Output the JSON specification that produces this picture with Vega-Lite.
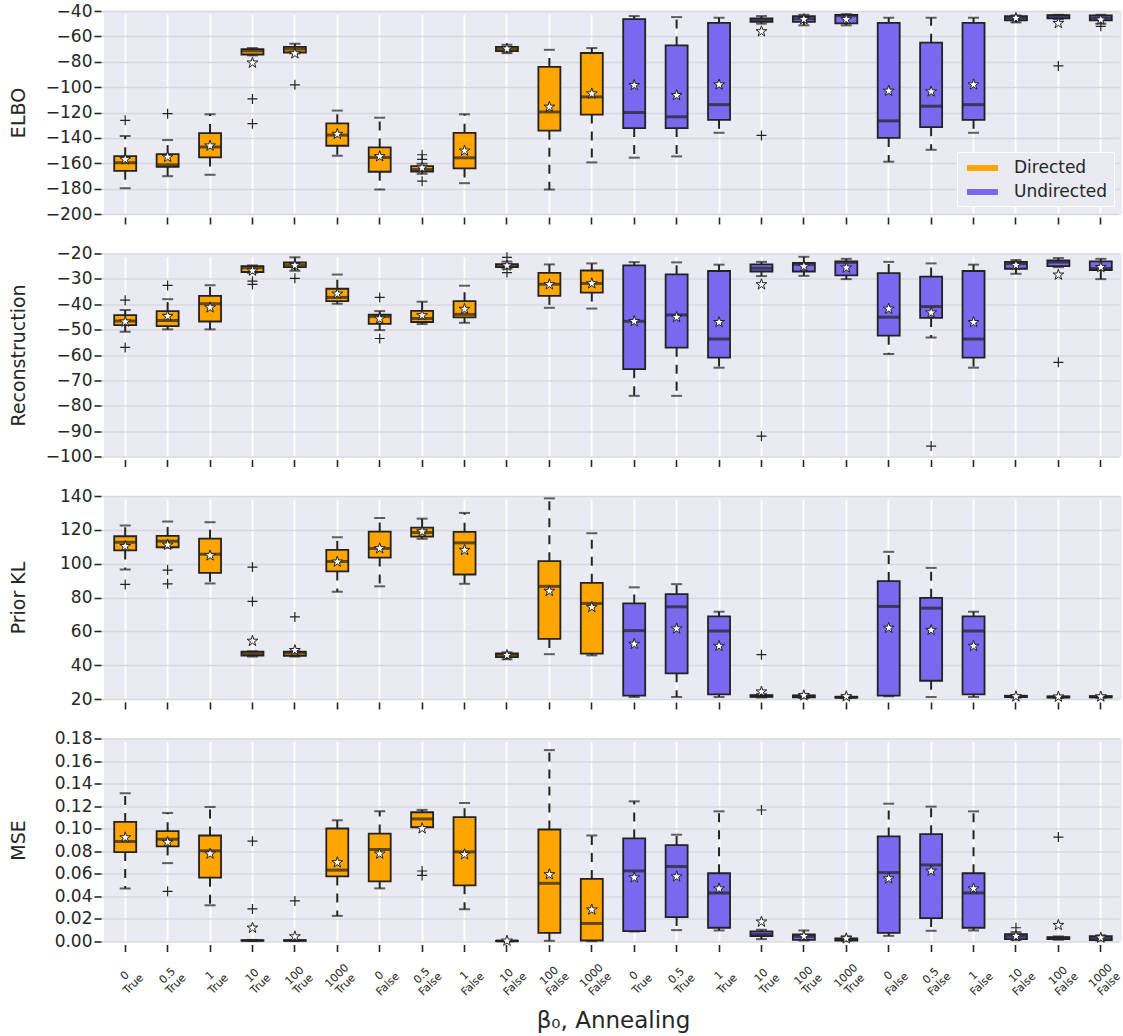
{
"$schema": "https://vega.github.io/schema/vega-lite/v6.json",
"padding": {"left": 8, "top": 2, "right": 2, "bottom": 4},
"background": "white",
"spacing": 39.5,
"bounds": "flush",
"resolve": {"scale": {"color": "independent"}, "legend": {"color": "independent"}},
"datasets": {
"stats": [
{"m":"ELBO","c":"D|0|True","t":"Directed","lo":-179.7,"q1":-166,"md":-159.6,"q3":-154.4,"hi":-138.5,"mn":-157},
{"m":"ELBO","c":"D|0.5|True","t":"Directed","lo":-170.2,"q1":-162.8,"md":-161.2,"q3":-152.8,"hi":-141.7,"mn":-155.1},
{"m":"ELBO","c":"D|1|True","t":"Directed","lo":-169.1,"q1":-155.4,"md":-147.2,"q3":-136.2,"hi":-121.4,"mn":-146.2},
{"m":"ELBO","c":"D|10|True","t":"Directed","lo":-75,"q1":-74.3,"md":-71.4,"q3":-70,"hi":-69.2,"mn":-80.8},
{"m":"ELBO","c":"D|100|True","t":"Directed","lo":-73.5,"q1":-72.7,"md":-70,"q3":-68.2,"hi":-65.8,"mn":-73.5},
{"m":"ELBO","c":"D|1000|True","t":"Directed","lo":-154.1,"q1":-146.2,"md":-137.8,"q3":-128.5,"hi":-118.5,"mn":-137},
{"m":"ELBO","c":"D|0|False","t":"Directed","lo":-180.7,"q1":-166.7,"md":-155.4,"q3":-147.5,"hi":-124.1,"mn":-154.6},
{"m":"ELBO","c":"D|0.5|False","t":"Directed","lo":-168.3,"q1":-166.5,"md":-164.9,"q3":-162.3,"hi":-160.4,"mn":-163.6},
{"m":"ELBO","c":"D|1|False","t":"Directed","lo":-175.7,"q1":-164.1,"md":-155.7,"q3":-136,"hi":-121.4,"mn":-150.2},
{"m":"ELBO","c":"D|10|False","t":"Directed","lo":-73.2,"q1":-71.6,"md":-70,"q3":-68.2,"hi":-66.6,"mn":-69.8},
{"m":"ELBO","c":"D|100|False","t":"Directed","lo":-180.7,"q1":-134.3,"md":-119.6,"q3":-84.1,"hi":-70.6,"mn":-115.6},
{"m":"ELBO","c":"D|1000|False","t":"Directed","lo":-159.3,"q1":-121.6,"md":-107.7,"q3":-73.1,"hi":-69.2,"mn":-105.1},
{"m":"ELBO","c":"U|0|True","t":"Undirected","lo":-155.6,"q1":-132.3,"md":-120,"q3":-46.4,"hi":-44,"mn":-98.5},
{"m":"ELBO","c":"U|0.5|True","t":"Undirected","lo":-154.6,"q1":-132.3,"md":-123.4,"q3":-67.1,"hi":-44.8,"mn":-106.4},
{"m":"ELBO","c":"U|1|True","t":"Undirected","lo":-136,"q1":-125.8,"md":-113.8,"q3":-49.3,"hi":-45.3,"mn":-98},
{"m":"ELBO","c":"U|10|True","t":"Undirected","lo":-50,"q1":-48.5,"md":-47.2,"q3":-45.8,"hi":-44,"mn":-56.1},
{"m":"ELBO","c":"U|100|True","t":"Undirected","lo":-51.3,"q1":-48.5,"md":-46.1,"q3":-44,"hi":-43,"mn":-46.6},
{"m":"ELBO","c":"U|1000|True","t":"Undirected","lo":-51.3,"q1":-49.8,"md":-43.5,"q3":-43,"hi":-42.5,"mn":-46.6},
{"m":"ELBO","c":"U|0|False","t":"Undirected","lo":-158.8,"q1":-140,"md":-126.6,"q3":-49.3,"hi":-45.3,"mn":-103},
{"m":"ELBO","c":"U|0.5|False","t":"Undirected","lo":-149.4,"q1":-131.6,"md":-115,"q3":-65,"hi":-45.3,"mn":-103.5},
{"m":"ELBO","c":"U|1|False","t":"Undirected","lo":-136,"q1":-125.8,"md":-113.8,"q3":-49.3,"hi":-45.3,"mn":-98},
{"m":"ELBO","c":"U|10|False","t":"Undirected","lo":-49,"q1":-47.4,"md":-45.6,"q3":-44,"hi":-43.5,"mn":-45.6},
{"m":"ELBO","c":"U|100|False","t":"Undirected","lo":-46.4,"q1":-45.8,"md":-44,"q3":-43.2,"hi":-43,"mn":-49.6},
{"m":"ELBO","c":"U|1000|False","t":"Undirected","lo":-50,"q1":-47.4,"md":-45.6,"q3":-43.5,"hi":-43,"mn":-46.9},

{"m":"Rec","c":"D|0|True","t":"Directed","lo":-50.8,"q1":-48.2,"md":-46.6,"q3":-44.3,"hi":-42.3,"mn":-46.9},
{"m":"Rec","c":"D|0.5|True","t":"Directed","lo":-49.9,"q1":-48.6,"md":-46.4,"q3":-42.7,"hi":-38,"mn":-44.7},
{"m":"Rec","c":"D|1|True","t":"Directed","lo":-49.9,"q1":-46.8,"md":-39.8,"q3":-36.7,"hi":-32.5,"mn":-41.3},
{"m":"Rec","c":"D|10|True","t":"Directed","lo":-27.6,"q1":-27.3,"md":-25.6,"q3":-25,"hi":-24.7,"mn":-26.8},
{"m":"Rec","c":"D|100|True","t":"Directed","lo":-26.8,"q1":-25.4,"md":-24.5,"q3":-23.5,"hi":-21.5,"mn":-24.7},
{"m":"Rec","c":"D|1000|True","t":"Directed","lo":-39.8,"q1":-38.8,"md":-37.3,"q3":-33.9,"hi":-28.3,"mn":-35.9},
{"m":"Rec","c":"D|0|False","t":"Directed","lo":-50.2,"q1":-47.7,"md":-44.8,"q3":-44.1,"hi":-42.7,"mn":-45.7},
{"m":"Rec","c":"D|0.5|False","t":"Directed","lo":-47.8,"q1":-47,"md":-45.6,"q3":-42.6,"hi":-39,"mn":-44.4},
{"m":"Rec","c":"D|1|False","t":"Directed","lo":-47.3,"q1":-45.2,"md":-44,"q3":-38.8,"hi":-32.7,"mn":-41.9},
{"m":"Rec","c":"D|10|False","t":"Directed","lo":-26,"q1":-25.4,"md":-24.8,"q3":-24.2,"hi":-23.2,"mn":-24.8},
{"m":"Rec","c":"D|100|False","t":"Directed","lo":-41.4,"q1":-36.7,"md":-32.1,"q3":-27.6,"hi":-24.3,"mn":-32.2},
{"m":"Rec","c":"D|1000|False","t":"Directed","lo":-41.7,"q1":-35.4,"md":-31.8,"q3":-26.7,"hi":-23.9,"mn":-31.8},
{"m":"Rec","c":"U|0|True","t":"Undirected","lo":-76.1,"q1":-65.6,"md":-46.7,"q3":-24.7,"hi":-23.4,"mn":-46.7},
{"m":"Rec","c":"U|0.5|True","t":"Undirected","lo":-76.1,"q1":-57.1,"md":-44.2,"q3":-28.2,"hi":-23.5,"mn":-45.1},
{"m":"Rec","c":"U|1|True","t":"Undirected","lo":-65,"q1":-61,"md":-53.7,"q3":-26.9,"hi":-24.4,"mn":-47.1},
{"m":"Rec","c":"U|10|True","t":"Undirected","lo":-28.9,"q1":-27.1,"md":-25.8,"q3":-24.3,"hi":-23.3,"mn":-32.2},
{"m":"Rec","c":"U|100|True","t":"Undirected","lo":-28.8,"q1":-27.1,"md":-24.3,"q3":-23.7,"hi":-21.3,"mn":-25.1},
{"m":"Rec","c":"U|1000|True","t":"Undirected","lo":-30.1,"q1":-28.6,"md":-23.5,"q3":-23.1,"hi":-22.1,"mn":-25.6},
{"m":"Rec","c":"U|0|False","t":"Undirected","lo":-59.6,"q1":-52.4,"md":-45.1,"q3":-27.7,"hi":-23.3,"mn":-41.8},
{"m":"Rec","c":"U|0.5|False","t":"Undirected","lo":-53.1,"q1":-45.4,"md":-40.9,"q3":-29.1,"hi":-23.9,"mn":-43.3},
{"m":"Rec","c":"U|1|False","t":"Undirected","lo":-65,"q1":-61,"md":-53.7,"q3":-26.9,"hi":-24.4,"mn":-47.1},
{"m":"Rec","c":"U|10|False","t":"Undirected","lo":-28,"q1":-26,"md":-24,"q3":-23.3,"hi":-22.6,"mn":-24.6},
{"m":"Rec","c":"U|100|False","t":"Undirected","lo":-25.4,"q1":-25,"md":-23.4,"q3":-22.7,"hi":-21.8,"mn":-28.4},
{"m":"Rec","c":"U|1000|False","t":"Undirected","lo":-30.1,"q1":-26.5,"md":-25.9,"q3":-23.1,"hi":-22.1,"mn":-25.4},

{"m":"KL","c":"D|0|True","t":"Directed","lo":96.6,"q1":107.8,"md":112.7,"q3":116.2,"hi":122.5,"mn":110.3},
{"m":"KL","c":"D|0.5|True","t":"Directed","lo":109.5,"q1":109.7,"md":113.3,"q3":116.4,"hi":124.9,"mn":111.1},
{"m":"KL","c":"D|1|True","t":"Directed","lo":88.3,"q1":94.6,"md":105.6,"q3":114.8,"hi":124.5,"mn":104.8},
{"m":"KL","c":"D|10|True","t":"Directed","lo":45.1,"q1":45.7,"md":46.9,"q3":48,"hi":48.2,"mn":54.3},
{"m":"KL","c":"D|100|True","t":"Directed","lo":45.1,"q1":45.5,"md":47.1,"q3":48,"hi":48.2,"mn":48.8},
{"m":"KL","c":"D|1000|True","t":"Directed","lo":83.4,"q1":95.4,"md":101.3,"q3":108.2,"hi":115.6,"mn":101.1},
{"m":"KL","c":"D|0|False","t":"Directed","lo":86.6,"q1":103.6,"md":109,"q3":119,"hi":127,"mn":109},
{"m":"KL","c":"D|0.5|False","t":"Directed","lo":114.7,"q1":116,"md":118.4,"q3":121.3,"hi":126.6,"mn":119},
{"m":"KL","c":"D|1|False","t":"Directed","lo":88.1,"q1":93.6,"md":112.3,"q3":118.8,"hi":130,"mn":108},
{"m":"KL","c":"D|10|False","t":"Directed","lo":43.5,"q1":44.7,"md":45.9,"q3":46.9,"hi":47.6,"mn":45.9},
{"m":"KL","c":"D|100|False","t":"Directed","lo":46.5,"q1":55.5,"md":86.6,"q3":101.5,"hi":138.6,"mn":83.8},
{"m":"KL","c":"D|1000|False","t":"Directed","lo":45.8,"q1":46.8,"md":76.5,"q3":88.7,"hi":118,"mn":74.3},
{"m":"KL","c":"U|0|True","t":"Undirected","lo":21.2,"q1":22,"md":60.4,"q3":76.5,"hi":86,"mn":52.5},
{"m":"KL","c":"U|0.5|True","t":"Undirected","lo":21.2,"q1":35.2,"md":74.5,"q3":82,"hi":87.9,"mn":61.6},
{"m":"KL","c":"U|1|True","t":"Undirected","lo":21.2,"q1":22.7,"md":60.2,"q3":68.8,"hi":71.6,"mn":51.3},
{"m":"KL","c":"U|10|True","t":"Undirected","lo":20.9,"q1":21.2,"md":21.7,"q3":22.3,"hi":23,"mn":24.3},
{"m":"KL","c":"U|100|True","t":"Undirected","lo":20.6,"q1":21,"md":21.6,"q3":22.1,"hi":23,"mn":22.1},
{"m":"KL","c":"U|1000|True","t":"Undirected","lo":20.5,"q1":20.8,"md":21,"q3":21.3,"hi":21.8,"mn":21.5},
{"m":"KL","c":"U|0|False","t":"Undirected","lo":21.6,"q1":22,"md":74.7,"q3":89.7,"hi":107,"mn":62},
{"m":"KL","c":"U|0.5|False","t":"Undirected","lo":21.2,"q1":30.8,"md":73.7,"q3":79.8,"hi":97.5,"mn":60.7},
{"m":"KL","c":"U|1|False","t":"Undirected","lo":21.2,"q1":22.7,"md":60.2,"q3":68.8,"hi":71.6,"mn":51.3},
{"m":"KL","c":"U|10|False","t":"Undirected","lo":20.8,"q1":21.1,"md":21.5,"q3":21.9,"hi":22.3,"mn":21.5},
{"m":"KL","c":"U|100|False","t":"Undirected","lo":20.6,"q1":20.9,"md":21.2,"q3":21.5,"hi":21.9,"mn":21.3},
{"m":"KL","c":"U|1000|False","t":"Undirected","lo":20.7,"q1":21,"md":21.3,"q3":21.7,"hi":22.1,"mn":21.4},

{"m":"MSE","c":"D|0|True","t":"Directed","lo":0.0471,"q1":0.0793,"md":0.0887,"q3":0.106,"hi":0.1314,"mn":0.0922},
{"m":"MSE","c":"D|0.5|True","t":"Directed","lo":0.0695,"q1":0.0843,"md":0.0907,"q3":0.0978,"hi":0.114,"mn":0.0881},
{"m":"MSE","c":"D|1|True","t":"Directed","lo":0.0321,"q1":0.0566,"md":0.0804,"q3":0.094,"hi":0.1193,"mn":0.0778},
{"m":"MSE","c":"D|10|True","t":"Directed","lo":0.0004,"q1":0.0007,"md":0.0009,"q3":0.0011,"hi":0.0014,"mn":0.0121},
{"m":"MSE","c":"D|100|True","t":"Directed","lo":0.0004,"q1":0.0007,"md":0.0009,"q3":0.0011,"hi":0.0014,"mn":0.0044},
{"m":"MSE","c":"D|1000|True","t":"Directed","lo":0.0227,"q1":0.0577,"md":0.0633,"q3":0.1002,"hi":0.1075,"mn":0.0701},
{"m":"MSE","c":"D|0|False","t":"Directed","lo":0.0471,"q1":0.0533,"md":0.0816,"q3":0.0957,"hi":0.1155,"mn":0.0778},
{"m":"MSE","c":"D|0.5|False","t":"Directed","lo":0.1013,"q1":0.1013,"md":0.1087,"q3":0.1146,"hi":0.1167,"mn":0.1002},
{"m":"MSE","c":"D|1|False","t":"Directed","lo":0.0286,"q1":0.0498,"md":0.0795,"q3":0.1102,"hi":0.1228,"mn":0.0772},
{"m":"MSE","c":"D|10|False","t":"Directed","lo":0.0003,"q1":0.0004,"md":0.0005,"q3":0.0006,"hi":0.0008,"mn":0.0006},
{"m":"MSE","c":"D|100|False","t":"Directed","lo":0.0006,"q1":0.0077,"md":0.0516,"q3":0.0993,"hi":0.1697,"mn":0.0595},
{"m":"MSE","c":"D|1000|False","t":"Directed","lo":0.0003,"q1":0.0009,"md":0.016,"q3":0.0555,"hi":0.094,"mn":0.0282},
{"m":"MSE","c":"U|0|True","t":"Undirected","lo":0.0089,"q1":0.0092,"md":0.0626,"q3":0.0914,"hi":0.1243,"mn":0.0567},
{"m":"MSE","c":"U|0.5|True","t":"Undirected","lo":0.0101,"q1":0.0217,"md":0.0665,"q3":0.0855,"hi":0.0947,"mn":0.0576},
{"m":"MSE","c":"U|1|True","t":"Undirected","lo":0.0098,"q1":0.0122,"md":0.043,"q3":0.0605,"hi":0.1154,"mn":0.0469},
{"m":"MSE","c":"U|10|True","t":"Undirected","lo":0.0021,"q1":0.0047,"md":0.0062,"q3":0.0089,"hi":0.0104,"mn":0.0175},
{"m":"MSE","c":"U|100|True","t":"Undirected","lo":0.0009,"q1":0.0015,"md":0.0045,"q3":0.0062,"hi":0.0098,"mn":0.0047},
{"m":"MSE","c":"U|1000|True","t":"Undirected","lo":0.0006,"q1":0.0009,"md":0.0018,"q3":0.0027,"hi":0.0047,"mn":0.0027},
{"m":"MSE","c":"U|0|False","t":"Undirected","lo":0.005,"q1":0.0077,"md":0.0611,"q3":0.0932,"hi":0.1222,"mn":0.0558},
{"m":"MSE","c":"U|0.5|False","t":"Undirected","lo":0.0095,"q1":0.0208,"md":0.0679,"q3":0.0952,"hi":0.1196,"mn":0.0626},
{"m":"MSE","c":"U|1|False","t":"Undirected","lo":0.0098,"q1":0.0122,"md":0.043,"q3":0.0605,"hi":0.1154,"mn":0.0469},
{"m":"MSE","c":"U|10|False","t":"Undirected","lo":0.0012,"q1":0.0021,"md":0.0047,"q3":0.0065,"hi":0.0083,"mn":0.0047},
{"m":"MSE","c":"U|100|False","t":"Undirected","lo":0.0015,"q1":0.0021,"md":0.003,"q3":0.0039,"hi":0.0045,"mn":0.0145},
{"m":"MSE","c":"U|1000|False","t":"Undirected","lo":0.0009,"q1":0.0012,"md":0.003,"q3":0.0047,"hi":0.0055,"mn":0.0033}
],
"out": [
{"m":"ELBO","c":"D|0|True","v":-126.2},
{"m":"ELBO","c":"D|0.5|True","v":-120.9},
{"m":"ELBO","c":"D|10|True","v":-109.3},
{"m":"ELBO","c":"D|10|True","v":-128.8},
{"m":"ELBO","c":"D|100|True","v":-98.2},
{"m":"ELBO","c":"D|0.5|False","v":-153.3},
{"m":"ELBO","c":"D|0.5|False","v":-157},
{"m":"ELBO","c":"D|0.5|False","v":-174.1},
{"m":"ELBO","c":"U|10|True","v":-138.1},
{"m":"ELBO","c":"U|100|False","v":-83.3},
{"m":"ELBO","c":"U|1000|False","v":-52.1},
{"m":"Rec","c":"D|0|True","v":-38.4},
{"m":"Rec","c":"D|0|True","v":-57},
{"m":"Rec","c":"D|0.5|True","v":-32.6},
{"m":"Rec","c":"D|10|True","v":-30.9},
{"m":"Rec","c":"D|10|True","v":-32.2},
{"m":"Rec","c":"D|100|True","v":-29.8},
{"m":"Rec","c":"D|0|False","v":-37.3},
{"m":"Rec","c":"D|0|False","v":-53.5},
{"m":"Rec","c":"D|10|False","v":-21.5},
{"m":"Rec","c":"D|10|False","v":-27.5},
{"m":"Rec","c":"U|10|True","v":-92},
{"m":"Rec","c":"U|0.5|False","v":-95.9},
{"m":"Rec","c":"U|100|False","v":-62.9},
{"m":"KL","c":"D|0|True","v":87.7},
{"m":"KL","c":"D|0.5|True","v":96.2},
{"m":"KL","c":"D|0.5|True","v":88.1},
{"m":"KL","c":"D|10|True","v":98},
{"m":"KL","c":"D|10|True","v":77.7},
{"m":"KL","c":"D|100|True","v":68.5},
{"m":"KL","c":"U|10|True","v":46.2},
{"m":"MSE","c":"D|0.5|True","v":0.0445},
{"m":"MSE","c":"D|10|True","v":0.089},
{"m":"MSE","c":"D|10|True","v":0.0289},
{"m":"MSE","c":"D|100|True","v":0.036},
{"m":"MSE","c":"D|0.5|False","v":0.0625},
{"m":"MSE","c":"D|0.5|False","v":0.0586},
{"m":"MSE","c":"U|10|True","v":0.1166},
{"m":"MSE","c":"U|10|False","v":0.0122},
{"m":"MSE","c":"U|100|False","v":0.0926}
]
},
"vconcat": [
{
"width": 1018, "height": 203,
"encoding": {"x": {"field":"c","type":"nominal","title":null,"sort":["D|0|True","D|0.5|True","D|1|True","D|10|True","D|100|True","D|1000|True","D|0|False","D|0.5|False","D|1|False","D|10|False","D|100|False","D|1000|False","U|0|True","U|0.5|True","U|1|True","U|10|True","U|100|True","U|1000|True","U|0|False","U|0.5|False","U|1|False","U|10|False","U|100|False","U|1000|False"],"scale":{"paddingInner":0,"paddingOuter":0},"axis":{"labels":false,"grid":true,"gridColor":"#FFFFFF","gridWidth":2,"bandPosition":0.5,"title":null}}},
"layer": [
{"data":{"name":"stats"},"transform":[{"filter":"datum.m=='ELBO'"}],"mark":{"type":"rule","strokeDash":[9,8],"strokeWidth":2,"color":"#222222"},"encoding":{"y":{"field":"q3","type":"quantitative","scale":{"domain":[-200,-40],"nice":false,"zero":false},"axis":{"title":"ELBO","values":[-200,-180,-160,-140,-120,-100,-80,-60,-40],"grid":true,"titleX":-83,"titleY":101.5}},"y2":{"field":"hi"}}},
{"data":{"name":"stats"},"transform":[{"filter":"datum.m=='ELBO'"}],"mark":{"type":"rule","strokeDash":[9,8],"strokeWidth":2,"color":"#222222"},"encoding":{"y":{"field":"q1","type":"quantitative","scale":{"domain":[-200,-40],"nice":false,"zero":false},"axis":{"title":"ELBO","values":[-200,-180,-160,-140,-120,-100,-80,-60,-40],"grid":true,"titleX":-83,"titleY":101.5}},"y2":{"field":"lo"}}},
{"data":{"name":"stats"},"transform":[{"filter":"datum.m=='ELBO'"}],"mark":{"type":"tick","size":11,"thickness":2,"color":"#222222"},"encoding":{"y":{"field":"lo","type":"quantitative","scale":{"domain":[-200,-40],"nice":false,"zero":false},"axis":{"title":"ELBO","values":[-200,-180,-160,-140,-120,-100,-80,-60,-40],"grid":true,"titleX":-83,"titleY":101.5}}}},
{"data":{"name":"stats"},"transform":[{"filter":"datum.m=='ELBO'"}],"mark":{"type":"tick","size":11,"thickness":2,"color":"#222222"},"encoding":{"y":{"field":"hi","type":"quantitative","scale":{"domain":[-200,-40],"nice":false,"zero":false},"axis":{"title":"ELBO","values":[-200,-180,-160,-140,-120,-100,-80,-60,-40],"grid":true,"titleX":-83,"titleY":101.5}}}},
{"data":{"name":"stats"},"transform":[{"filter":"datum.m=='ELBO'"}],"mark":{"type":"bar","size":22,"stroke":"#222222","strokeWidth":1.8},"encoding":{"y":{"field":"q3","type":"quantitative","scale":{"domain":[-200,-40],"nice":false,"zero":false},"axis":{"title":"ELBO","values":[-200,-180,-160,-140,-120,-100,-80,-60,-40],"grid":true,"titleX":-83,"titleY":101.5}},"y2":{"field":"q1"},"color":{"field":"t","type":"nominal","scale":{"domain":["Directed","Undirected"],"range":["#FFA500","#7B68EE"]},"legend":{"title":null,"orient":"bottom-right","offset":8,"symbolType":"M-0.6,-0.3H2.5V0.3H-0.6Z","symbolSize":400,"symbolStrokeWidth":0,"symbolOpacity":1,"labelFontSize":17,"labelOffset":31,"rowPadding":6,"padding":6,"fillColor":"#EAEAF2","strokeColor":"#FFFFFF","labelColor":"#262626","labelFont":"DejaVu Sans"}}}},
{"data":{"name":"stats"},"transform":[{"filter":"datum.m=='ELBO'"}],"mark":{"type":"tick","size":22,"thickness":3,"color":"#222222"},"encoding":{"y":{"field":"md","type":"quantitative","scale":{"domain":[-200,-40],"nice":false,"zero":false},"axis":{"title":"ELBO","values":[-200,-180,-160,-140,-120,-100,-80,-60,-40],"grid":true,"titleX":-83,"titleY":101.5}}}},
{"data":{"name":"out"},"transform":[{"filter":"datum.m=='ELBO'"}],"mark":{"type":"point","shape":"M-1,0H1M0,-1V1","size":100,"filled":false,"color":"#222222","strokeWidth":1.2,"opacity":1},"encoding":{"y":{"field":"v","type":"quantitative","scale":{"domain":[-200,-40],"nice":false,"zero":false},"axis":{"title":"ELBO","values":[-200,-180,-160,-140,-120,-100,-80,-60,-40],"grid":true,"titleX":-83,"titleY":101.5}}}},
{"data":{"name":"stats"},"transform":[{"filter":"datum.m=='ELBO'"}],"mark":{"type":"point","shape":"M0,-1L0.2245,-0.309L0.951,-0.309L0.363,0.118L0.588,0.809L0,0.382L-0.588,0.809L-0.363,0.118L-0.951,-0.309L-0.2245,-0.309Z","size":130,"filled":true,"fill":"#FFFFFF","stroke":"#222222","strokeWidth":1,"opacity":1},"encoding":{"y":{"field":"mn","type":"quantitative","scale":{"domain":[-200,-40],"nice":false,"zero":false},"axis":{"title":"ELBO","values":[-200,-180,-160,-140,-120,-100,-80,-60,-40],"grid":true,"titleX":-83,"titleY":101.5}}}}
]
},
{
"width": 1018, "height": 203,
"encoding": {"x": {"field":"c","type":"nominal","title":null,"sort":["D|0|True","D|0.5|True","D|1|True","D|10|True","D|100|True","D|1000|True","D|0|False","D|0.5|False","D|1|False","D|10|False","D|100|False","D|1000|False","U|0|True","U|0.5|True","U|1|True","U|10|True","U|100|True","U|1000|True","U|0|False","U|0.5|False","U|1|False","U|10|False","U|100|False","U|1000|False"],"scale":{"paddingInner":0,"paddingOuter":0},"axis":{"labels":false,"grid":true,"gridColor":"#FFFFFF","gridWidth":2,"bandPosition":0.5,"title":null}}},
"layer": [
{"data":{"name":"stats"},"transform":[{"filter":"datum.m=='Rec'"}],"mark":{"type":"rule","strokeDash":[9,8],"strokeWidth":2,"color":"#222222"},"encoding":{"y":{"field":"q3","type":"quantitative","scale":{"domain":[-100,-20],"nice":false,"zero":false},"axis":{"title":"Reconstruction","values":[-100,-90,-80,-70,-60,-50,-40,-30,-20],"grid":true,"titleX":-83,"titleY":101.5}},"y2":{"field":"hi"}}},
{"data":{"name":"stats"},"transform":[{"filter":"datum.m=='Rec'"}],"mark":{"type":"rule","strokeDash":[9,8],"strokeWidth":2,"color":"#222222"},"encoding":{"y":{"field":"q1","type":"quantitative","scale":{"domain":[-100,-20],"nice":false,"zero":false},"axis":{"title":"Reconstruction","values":[-100,-90,-80,-70,-60,-50,-40,-30,-20],"grid":true,"titleX":-83,"titleY":101.5}},"y2":{"field":"lo"}}},
{"data":{"name":"stats"},"transform":[{"filter":"datum.m=='Rec'"}],"mark":{"type":"tick","size":11,"thickness":2,"color":"#222222"},"encoding":{"y":{"field":"lo","type":"quantitative","scale":{"domain":[-100,-20],"nice":false,"zero":false},"axis":{"title":"Reconstruction","values":[-100,-90,-80,-70,-60,-50,-40,-30,-20],"grid":true,"titleX":-83,"titleY":101.5}}}},
{"data":{"name":"stats"},"transform":[{"filter":"datum.m=='Rec'"}],"mark":{"type":"tick","size":11,"thickness":2,"color":"#222222"},"encoding":{"y":{"field":"hi","type":"quantitative","scale":{"domain":[-100,-20],"nice":false,"zero":false},"axis":{"title":"Reconstruction","values":[-100,-90,-80,-70,-60,-50,-40,-30,-20],"grid":true,"titleX":-83,"titleY":101.5}}}},
{"data":{"name":"stats"},"transform":[{"filter":"datum.m=='Rec'"}],"mark":{"type":"bar","size":22,"stroke":"#222222","strokeWidth":1.8},"encoding":{"y":{"field":"q3","type":"quantitative","scale":{"domain":[-100,-20],"nice":false,"zero":false},"axis":{"title":"Reconstruction","values":[-100,-90,-80,-70,-60,-50,-40,-30,-20],"grid":true,"titleX":-83,"titleY":101.5}},"y2":{"field":"q1"},"color":{"field":"t","type":"nominal","scale":{"domain":["Directed","Undirected"],"range":["#FFA500","#7B68EE"]},"legend":null}}},
{"data":{"name":"stats"},"transform":[{"filter":"datum.m=='Rec'"}],"mark":{"type":"tick","size":22,"thickness":3,"color":"#222222"},"encoding":{"y":{"field":"md","type":"quantitative","scale":{"domain":[-100,-20],"nice":false,"zero":false},"axis":{"title":"Reconstruction","values":[-100,-90,-80,-70,-60,-50,-40,-30,-20],"grid":true,"titleX":-83,"titleY":101.5}}}},
{"data":{"name":"out"},"transform":[{"filter":"datum.m=='Rec'"}],"mark":{"type":"point","shape":"M-1,0H1M0,-1V1","size":100,"filled":false,"color":"#222222","strokeWidth":1.2,"opacity":1},"encoding":{"y":{"field":"v","type":"quantitative","scale":{"domain":[-100,-20],"nice":false,"zero":false},"axis":{"title":"Reconstruction","values":[-100,-90,-80,-70,-60,-50,-40,-30,-20],"grid":true,"titleX":-83,"titleY":101.5}}}},
{"data":{"name":"stats"},"transform":[{"filter":"datum.m=='Rec'"}],"mark":{"type":"point","shape":"M0,-1L0.2245,-0.309L0.951,-0.309L0.363,0.118L0.588,0.809L0,0.382L-0.588,0.809L-0.363,0.118L-0.951,-0.309L-0.2245,-0.309Z","size":130,"filled":true,"fill":"#FFFFFF","stroke":"#222222","strokeWidth":1,"opacity":1},"encoding":{"y":{"field":"mn","type":"quantitative","scale":{"domain":[-100,-20],"nice":false,"zero":false},"axis":{"title":"Reconstruction","values":[-100,-90,-80,-70,-60,-50,-40,-30,-20],"grid":true,"titleX":-83,"titleY":101.5}}}}
]
},
{
"width": 1018, "height": 203,
"encoding": {"x": {"field":"c","type":"nominal","title":null,"sort":["D|0|True","D|0.5|True","D|1|True","D|10|True","D|100|True","D|1000|True","D|0|False","D|0.5|False","D|1|False","D|10|False","D|100|False","D|1000|False","U|0|True","U|0.5|True","U|1|True","U|10|True","U|100|True","U|1000|True","U|0|False","U|0.5|False","U|1|False","U|10|False","U|100|False","U|1000|False"],"scale":{"paddingInner":0,"paddingOuter":0},"axis":{"labels":false,"grid":true,"gridColor":"#FFFFFF","gridWidth":2,"bandPosition":0.5,"title":null}}},
"layer": [
{"data":{"name":"stats"},"transform":[{"filter":"datum.m=='KL'"}],"mark":{"type":"rule","strokeDash":[9,8],"strokeWidth":2,"color":"#222222"},"encoding":{"y":{"field":"q3","type":"quantitative","scale":{"domain":[20,140],"nice":false,"zero":false},"axis":{"title":"Prior KL","values":[20,40,60,80,100,120,140],"grid":true,"titleX":-83,"titleY":101.5}},"y2":{"field":"hi"}}},
{"data":{"name":"stats"},"transform":[{"filter":"datum.m=='KL'"}],"mark":{"type":"rule","strokeDash":[9,8],"strokeWidth":2,"color":"#222222"},"encoding":{"y":{"field":"q1","type":"quantitative","scale":{"domain":[20,140],"nice":false,"zero":false},"axis":{"title":"Prior KL","values":[20,40,60,80,100,120,140],"grid":true,"titleX":-83,"titleY":101.5}},"y2":{"field":"lo"}}},
{"data":{"name":"stats"},"transform":[{"filter":"datum.m=='KL'"}],"mark":{"type":"tick","size":11,"thickness":2,"color":"#222222"},"encoding":{"y":{"field":"lo","type":"quantitative","scale":{"domain":[20,140],"nice":false,"zero":false},"axis":{"title":"Prior KL","values":[20,40,60,80,100,120,140],"grid":true,"titleX":-83,"titleY":101.5}}}},
{"data":{"name":"stats"},"transform":[{"filter":"datum.m=='KL'"}],"mark":{"type":"tick","size":11,"thickness":2,"color":"#222222"},"encoding":{"y":{"field":"hi","type":"quantitative","scale":{"domain":[20,140],"nice":false,"zero":false},"axis":{"title":"Prior KL","values":[20,40,60,80,100,120,140],"grid":true,"titleX":-83,"titleY":101.5}}}},
{"data":{"name":"stats"},"transform":[{"filter":"datum.m=='KL'"}],"mark":{"type":"bar","size":22,"stroke":"#222222","strokeWidth":1.8},"encoding":{"y":{"field":"q3","type":"quantitative","scale":{"domain":[20,140],"nice":false,"zero":false},"axis":{"title":"Prior KL","values":[20,40,60,80,100,120,140],"grid":true,"titleX":-83,"titleY":101.5}},"y2":{"field":"q1"},"color":{"field":"t","type":"nominal","scale":{"domain":["Directed","Undirected"],"range":["#FFA500","#7B68EE"]},"legend":null}}},
{"data":{"name":"stats"},"transform":[{"filter":"datum.m=='KL'"}],"mark":{"type":"tick","size":22,"thickness":3,"color":"#222222"},"encoding":{"y":{"field":"md","type":"quantitative","scale":{"domain":[20,140],"nice":false,"zero":false},"axis":{"title":"Prior KL","values":[20,40,60,80,100,120,140],"grid":true,"titleX":-83,"titleY":101.5}}}},
{"data":{"name":"out"},"transform":[{"filter":"datum.m=='KL'"}],"mark":{"type":"point","shape":"M-1,0H1M0,-1V1","size":100,"filled":false,"color":"#222222","strokeWidth":1.2,"opacity":1},"encoding":{"y":{"field":"v","type":"quantitative","scale":{"domain":[20,140],"nice":false,"zero":false},"axis":{"title":"Prior KL","values":[20,40,60,80,100,120,140],"grid":true,"titleX":-83,"titleY":101.5}}}},
{"data":{"name":"stats"},"transform":[{"filter":"datum.m=='KL'"}],"mark":{"type":"point","shape":"M0,-1L0.2245,-0.309L0.951,-0.309L0.363,0.118L0.588,0.809L0,0.382L-0.588,0.809L-0.363,0.118L-0.951,-0.309L-0.2245,-0.309Z","size":130,"filled":true,"fill":"#FFFFFF","stroke":"#222222","strokeWidth":1,"opacity":1},"encoding":{"y":{"field":"mn","type":"quantitative","scale":{"domain":[20,140],"nice":false,"zero":false},"axis":{"title":"Prior KL","values":[20,40,60,80,100,120,140],"grid":true,"titleX":-83,"titleY":101.5}}}}
]
},
{
"width": 1018, "height": 203,
"encoding": {"x": {"field":"c","type":"nominal","title":"β₀, Annealing","sort":["D|0|True","D|0.5|True","D|1|True","D|10|True","D|100|True","D|1000|True","D|0|False","D|0.5|False","D|1|False","D|10|False","D|100|False","D|1000|False","U|0|True","U|0.5|True","U|1|True","U|10|True","U|100|True","U|1000|True","U|0|False","U|0.5|False","U|1|False","U|10|False","U|100|False","U|1000|False"],"scale":{"paddingInner":0,"paddingOuter":0},"axis":{"labels":true,"grid":true,"gridColor":"#FFFFFF","gridWidth":2,"bandPosition":0.5,"labelExpr":"[split(datum.label,'|')[1], split(datum.label,'|')[2]]","labelAngle":-45,"labelAlign":"center","labelBaseline":"middle","labelFontSize":11,"labelLineHeight":12,"labelPadding":24,"labelOverlap":false,"labelBound":false,"labelFlush":false,"titleFontSize":23,"titlePadding":12}}},
"layer": [
{"data":{"name":"stats"},"transform":[{"filter":"datum.m=='MSE'"}],"mark":{"type":"rule","strokeDash":[9,8],"strokeWidth":2,"color":"#222222"},"encoding":{"y":{"field":"q3","type":"quantitative","scale":{"domain":[0,0.18],"nice":false,"zero":false},"axis":{"title":"MSE","values":[0,0.02,0.04,0.06,0.08,0.1,0.12,0.14,0.16,0.18],"format":".2f","grid":true,"titleX":-83,"titleY":101.5}},"y2":{"field":"hi"}}},
{"data":{"name":"stats"},"transform":[{"filter":"datum.m=='MSE'"}],"mark":{"type":"rule","strokeDash":[9,8],"strokeWidth":2,"color":"#222222"},"encoding":{"y":{"field":"q1","type":"quantitative","scale":{"domain":[0,0.18],"nice":false,"zero":false},"axis":{"title":"MSE","values":[0,0.02,0.04,0.06,0.08,0.1,0.12,0.14,0.16,0.18],"format":".2f","grid":true,"titleX":-83,"titleY":101.5}},"y2":{"field":"lo"}}},
{"data":{"name":"stats"},"transform":[{"filter":"datum.m=='MSE'"}],"mark":{"type":"tick","size":11,"thickness":2,"color":"#222222"},"encoding":{"y":{"field":"lo","type":"quantitative","scale":{"domain":[0,0.18],"nice":false,"zero":false},"axis":{"title":"MSE","values":[0,0.02,0.04,0.06,0.08,0.1,0.12,0.14,0.16,0.18],"format":".2f","grid":true,"titleX":-83,"titleY":101.5}}}},
{"data":{"name":"stats"},"transform":[{"filter":"datum.m=='MSE'"}],"mark":{"type":"tick","size":11,"thickness":2,"color":"#222222"},"encoding":{"y":{"field":"hi","type":"quantitative","scale":{"domain":[0,0.18],"nice":false,"zero":false},"axis":{"title":"MSE","values":[0,0.02,0.04,0.06,0.08,0.1,0.12,0.14,0.16,0.18],"format":".2f","grid":true,"titleX":-83,"titleY":101.5}}}},
{"data":{"name":"stats"},"transform":[{"filter":"datum.m=='MSE'"}],"mark":{"type":"bar","size":22,"stroke":"#222222","strokeWidth":1.8},"encoding":{"y":{"field":"q3","type":"quantitative","scale":{"domain":[0,0.18],"nice":false,"zero":false},"axis":{"title":"MSE","values":[0,0.02,0.04,0.06,0.08,0.1,0.12,0.14,0.16,0.18],"format":".2f","grid":true,"titleX":-83,"titleY":101.5}},"y2":{"field":"q1"},"color":{"field":"t","type":"nominal","scale":{"domain":["Directed","Undirected"],"range":["#FFA500","#7B68EE"]},"legend":null}}},
{"data":{"name":"stats"},"transform":[{"filter":"datum.m=='MSE'"}],"mark":{"type":"tick","size":22,"thickness":3,"color":"#222222"},"encoding":{"y":{"field":"md","type":"quantitative","scale":{"domain":[0,0.18],"nice":false,"zero":false},"axis":{"title":"MSE","values":[0,0.02,0.04,0.06,0.08,0.1,0.12,0.14,0.16,0.18],"format":".2f","grid":true,"titleX":-83,"titleY":101.5}}}},
{"data":{"name":"out"},"transform":[{"filter":"datum.m=='MSE'"}],"mark":{"type":"point","shape":"M-1,0H1M0,-1V1","size":100,"filled":false,"color":"#222222","strokeWidth":1.2,"opacity":1},"encoding":{"y":{"field":"v","type":"quantitative","scale":{"domain":[0,0.18],"nice":false,"zero":false},"axis":{"title":"MSE","values":[0,0.02,0.04,0.06,0.08,0.1,0.12,0.14,0.16,0.18],"format":".2f","grid":true,"titleX":-83,"titleY":101.5}}}},
{"data":{"name":"stats"},"transform":[{"filter":"datum.m=='MSE'"}],"mark":{"type":"point","shape":"M0,-1L0.2245,-0.309L0.951,-0.309L0.363,0.118L0.588,0.809L0,0.382L-0.588,0.809L-0.363,0.118L-0.951,-0.309L-0.2245,-0.309Z","size":130,"filled":true,"fill":"#FFFFFF","stroke":"#222222","strokeWidth":1,"opacity":1},"encoding":{"y":{"field":"mn","type":"quantitative","scale":{"domain":[0,0.18],"nice":false,"zero":false},"axis":{"title":"MSE","values":[0,0.02,0.04,0.06,0.08,0.1,0.12,0.14,0.16,0.18],"format":".2f","grid":true,"titleX":-83,"titleY":101.5}}}}
]
}
],
"config": {
"font": "DejaVu Sans",
"view": {"fill": "#EAEAF2", "stroke": null},
"axis": {"domain": false, "tickColor": "#262626", "tickWidth": 1.6, "tickSize": 7, "offset": 3, "labelColor": "#262626", "titleColor": "#262626", "titleFontWeight": "normal", "labelFont": "DejaVu Sans", "titleFont": "DejaVu Sans"},
"axisY": {"gridColor": "#D8D8DF", "gridWidth": 1.3, "labelFontSize": 17, "titleFontSize": 19, "labelPadding": 2, "titleAlign": "center", "titleBaseline": "middle", "titleAngle": -90}
}
}
